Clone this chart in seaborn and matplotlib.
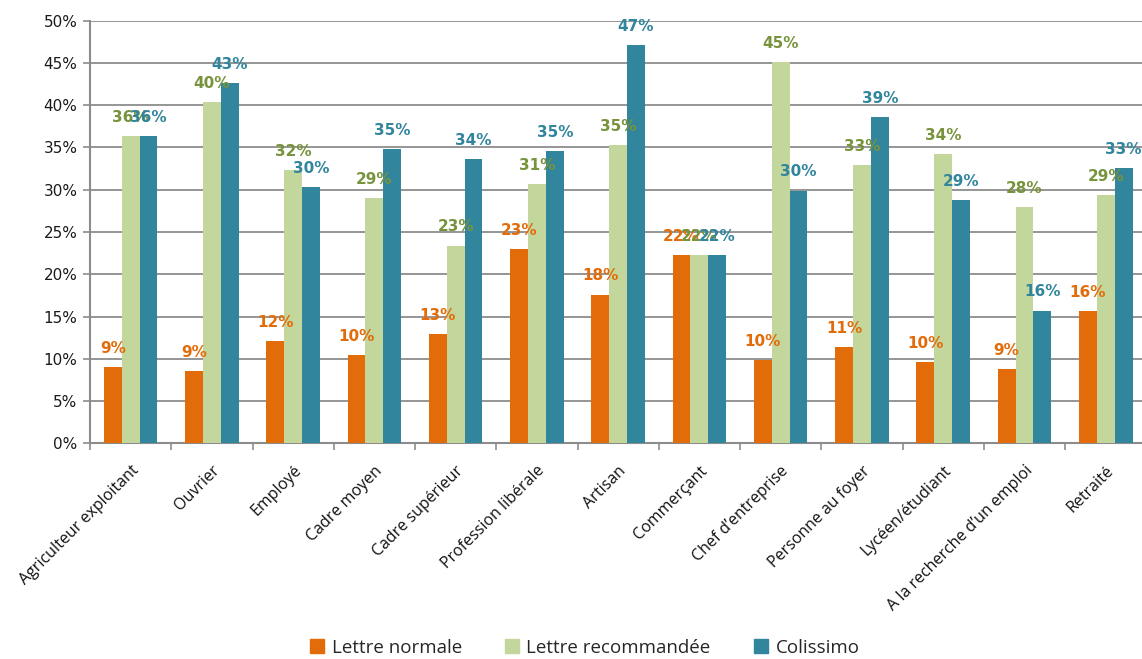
import matplotlib
matplotlib.use("Agg")
import matplotlib.pyplot as plt
import seaborn as sns
import pandas as pd
from matplotlib.ticker import FixedLocator, PercentFormatter

categories = ["Agriculteur exploitant", "Ouvrier", "Employé", "Cadre moyen", "Cadre supérieur",
              "Profession libérale", "Artisan", "Commerçant", "Chef d\u2019entreprise",
              "Personne au foyer", "Lycéen/étudiant", "A la recherche d\u2019un emploi", "Retraité"]
series = ["Lettre normale", "Lettre recommandée", "Colissimo"]
lettre_normale = [9.0, 8.6, 12.1, 10.45, 12.9, 23.0, 17.6, 22.25, 9.9, 11.4, 9.6, 8.8, 15.6]
lettre_recommandee = [36.3, 40.4, 32.3, 29.0, 23.4, 30.7, 35.3, 22.25, 45.1, 32.9, 34.2, 28.0, 29.4]
colissimo = [36.3, 42.6, 30.3, 34.8, 33.6, 34.6, 47.1, 22.25, 29.9, 38.6, 28.8, 15.7, 32.6]

bar_colors = ["#E36C0A", "#C3D69B", "#31859C"]
label_colors = ["#E36C0A", "#77933C", "#31859C"]

rows = []
for name, vals in zip(series, [lettre_normale, lettre_recommandee, colissimo]):
    for c, v in zip(categories, vals):
        rows.append({"cat": c, "serie": name, "val": v})
df = pd.DataFrame(rows)

sns.set_theme(style="white")
plt.rcParams["font.family"] = ["DejaVu Sans"]

fig = plt.figure(figsize=(11.42, 6.59), dpi=100)
ax = fig.add_axes([0.0788, 0.3273, 0.925, 0.6413])

sns.barplot(data=df, x="cat", y="val", hue="serie", order=categories, hue_order=series,
            palette=bar_colors, width=0.66, saturation=1, ax=ax, legend=False,
            linewidth=0, zorder=3)

for cont, col in zip(ax.containers, label_colors):
    ax.bar_label(cont, labels=[f"{b.get_height():.0f}%" for b in cont], padding=8,
                 color=col, fontsize=11, fontweight="bold", zorder=5)

ax.set_ylim(0, 50)
ax.set_xlim(-0.5, len(categories) - 0.5)
ax.set_yticks(range(0, 51, 5))
ax.yaxis.set_major_formatter(PercentFormatter(decimals=0))
ax.grid(axis="y", color="#8C8C8C", linewidth=1.3, zorder=0)
ax.set_axisbelow(True)
ax.set_xlabel("")
ax.set_ylabel("")

for s in ["top", "right"]:
    ax.spines[s].set_visible(False)
for s in ["left", "bottom"]:
    ax.spines[s].set_color("#8C8C8C")
    ax.spines[s].set_linewidth(1.5)

ax.tick_params(axis="y", which="major", length=5, width=1.2, color="#8C8C8C",
               direction="out", left=True, labelsize=11, labelcolor="#1a1a1a", pad=4)
ax.set_xticks(range(len(categories)))
ax.set_xticklabels(categories, rotation=45, ha="right", rotation_mode="anchor",
                   fontsize=11.5, family=["Open Sans", "DejaVu Sans"], color="#111111")
ax.tick_params(axis="x", which="major", length=0, pad=14)
ax.xaxis.set_minor_locator(FixedLocator([i + 0.5 for i in range(-1, len(categories))]))
ax.tick_params(axis="x", which="minor", length=5, width=1.2, color="#8C8C8C",
               direction="out", bottom=True)

handles = [plt.Rectangle((0, 0), 1, 1, color=c) for c in bar_colors]
fig.legend(handles, series, loc="lower center", bbox_to_anchor=(0.512, -0.022), ncol=3,
           frameon=False, handlelength=0.75, handleheight=0.75, handletextpad=0.4,
           columnspacing=2.3, prop={"family": ["Open Sans", "DejaVu Sans"], "size": 13.5})

fig.savefig("out.png", dpi=100)
